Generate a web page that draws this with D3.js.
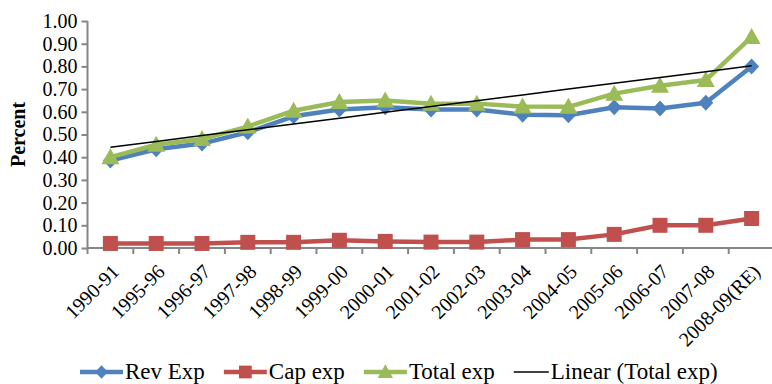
<!DOCTYPE html>
<html>
<head>
<meta charset="utf-8">
<script src="https://cdn.jsdelivr.net/npm/d3@7/dist/d3.min.js"></script>
<style>
  html, body { margin: 0; padding: 0; background: #fff; }
  svg { display: block; }
</style>
</head>
<body>
<svg id="chart" width="772" height="384"></svg>
<script>
// Years of expenditure share
const categories = ["1990-91", "1995-96", "1996-97", "1997-98", "1998-99", "1999-00", "2000-01",
  "2001-02", "2002-03", "2003-04", "2004-05", "2005-06", "2006-07", "2007-08", "2008-09(RE)"];

// Revenue, capital and total expenditure (percent)
const revExp   = [0.385, 0.435, 0.46, 0.51, 0.58, 0.61, 0.62, 0.61, 0.61, 0.587, 0.585, 0.62, 0.615, 0.64, 0.80];
const capExp   = [0.02, 0.02, 0.02, 0.025, 0.025, 0.034, 0.029, 0.026, 0.026, 0.037, 0.037, 0.06, 0.10, 0.10, 0.13];
const totalExp = [0.40, 0.455, 0.48, 0.535, 0.605, 0.643, 0.65, 0.635, 0.636, 0.623, 0.622, 0.68, 0.715, 0.74, 0.93];

const yTicks = [0, 0.1, 0.2, 0.3, 0.4, 0.5, 0.6, 0.7, 0.8, 0.9, 1.0];

const FONT = "'Liberation Serif', 'Times New Roman', Times, serif";
const svg = d3.select("#chart").attr("font-family", FONT);
const plotLeft = 87.5, plotRight = 774.5, plotTop = 21, plotBottom = 248;

const x = d3.scaleBand().domain(categories).range([plotLeft, plotRight]).padding(0);
const y = d3.scaleLinear().domain([0, 1]).range([plotBottom, plotTop]);
const cx = d => x(d) + x.bandwidth() / 2;

// Least-squares trend of total expenditure
const n = totalExp.length;
const xs = d3.range(1, n + 1);
const mx = d3.mean(xs), my = d3.mean(totalExp);
const slope = d3.sum(xs, (xi, i) => (xi - mx) * (totalExp[i] - my)) / d3.sum(xs, xi => (xi - mx) ** 2);
const trend = xs.map(xi => my + slope * (xi - mx));

// Axes
const axisColor = "#868686";
const yAxis = svg.append("g").attr("transform", `translate(${plotLeft},0)`)
  .call(d3.axisLeft(y).tickValues(yTicks).tickFormat(d3.format(".2f")).tickSize(6).tickPadding(4))
  .attr("font-family", FONT).attr("font-size", 20);
yAxis.selectAll("line, path").attr("stroke", axisColor).attr("stroke-width", 2);
yAxis.select(".domain").attr("d", `M0,${plotBottom}V${plotTop}`);
yAxis.selectAll("text").attr("fill", "#000");

const xAxis = svg.append("g").attr("transform", `translate(0,${plotBottom})`);
xAxis.append("line").attr("x1", plotLeft).attr("x2", plotRight).attr("y1", 0).attr("y2", 0)
  .attr("stroke", axisColor).attr("stroke-width", 2);
xAxis.selectAll("line.tk").data(categories).join("line").attr("class", "tk")
  .attr("x1", d => x(d)).attr("x2", d => x(d)).attr("y1", 0).attr("y2", 6)
  .attr("stroke", axisColor).attr("stroke-width", 2);
xAxis.selectAll("text.lbl").data(categories).join("text")
  .attr("class", "lbl")
  .attr("transform", d => `translate(${cx(d) + 5},${20}) rotate(-45)`)
  .attr("text-anchor", "end")
  .attr("dy", "0.35em")
  .attr("font-size", 20)
  .text(d => d);

// Y title
svg.append("text")
  .attr("transform", `translate(25,${(plotTop + plotBottom) / 2}) rotate(-90)`)
  .attr("text-anchor", "middle")
  .attr("font-size", 20).attr("font-weight", "bold")
  .text("Percent");

// Series
const series = [
  { name: "Rev Exp", values: revExp, color: "#4F81BD", marker: "diamond" },
  { name: "Cap exp", values: capExp, color: "#C0504D", marker: "square" },
  { name: "Total exp", values: totalExp, color: "#9BBB59", marker: "triangle" }
];

function markerPath(type) {
  if (type === "diamond") return "M0,-8L7.5,0L0,8L-7.5,0Z";
  if (type === "square") return "M-7.5,-7.5H7.5V7.5H-7.5Z";
  return "M0,-9L9,7H-9Z";
}

const line = d3.line().x((d, i) => cx(categories[i])).y(d => y(d));

series.forEach(s => {
  const g = svg.append("g");
  g.append("path").datum(s.values).attr("d", line)
    .attr("fill", "none").attr("stroke", s.color).attr("stroke-width", 4.5)
    .attr("stroke-linejoin", "round");
  g.selectAll("path.m").data(s.values).join("path").attr("class", "m")
    .attr("transform", (d, i) => `translate(${cx(categories[i])},${y(d)})`)
    .attr("d", markerPath(s.marker)).attr("fill", s.color);
});

// Trend line
svg.append("path").datum(trend).attr("d", line)
  .attr("fill", "none").attr("stroke", "#000").attr("stroke-width", 1.5);

// Legend
const legend = svg.append("g").attr("transform", "translate(0,372)");
const legendItems = [
  ...series.map(s => ({ name: s.name, color: s.color, marker: s.marker, w: 43 })),
  { name: "Linear (Total exp)", color: "#000", marker: null, w: 35 }
];
let lx = 80;
legendItems.forEach(item => {
  const g = legend.append("g").attr("transform", `translate(${lx},0)`);
  g.append("line").attr("x1", 0).attr("x2", item.w).attr("y1", 0).attr("y2", 0)
    .attr("stroke", item.color).attr("stroke-width", item.marker ? 4.5 : 1.5);
  if (item.marker) {
    g.append("path").attr("transform", `translate(${item.w / 2},0) scale(0.85)`)
      .attr("d", markerPath(item.marker)).attr("fill", item.color);
  }
  const t = g.append("text").attr("x", item.w + 2).attr("y", 7)
    .attr("font-size", 23).text(item.name);
  lx += item.w + 2 + t.node().getComputedTextLength() + 19;
});
</script>
</body>
</html>
